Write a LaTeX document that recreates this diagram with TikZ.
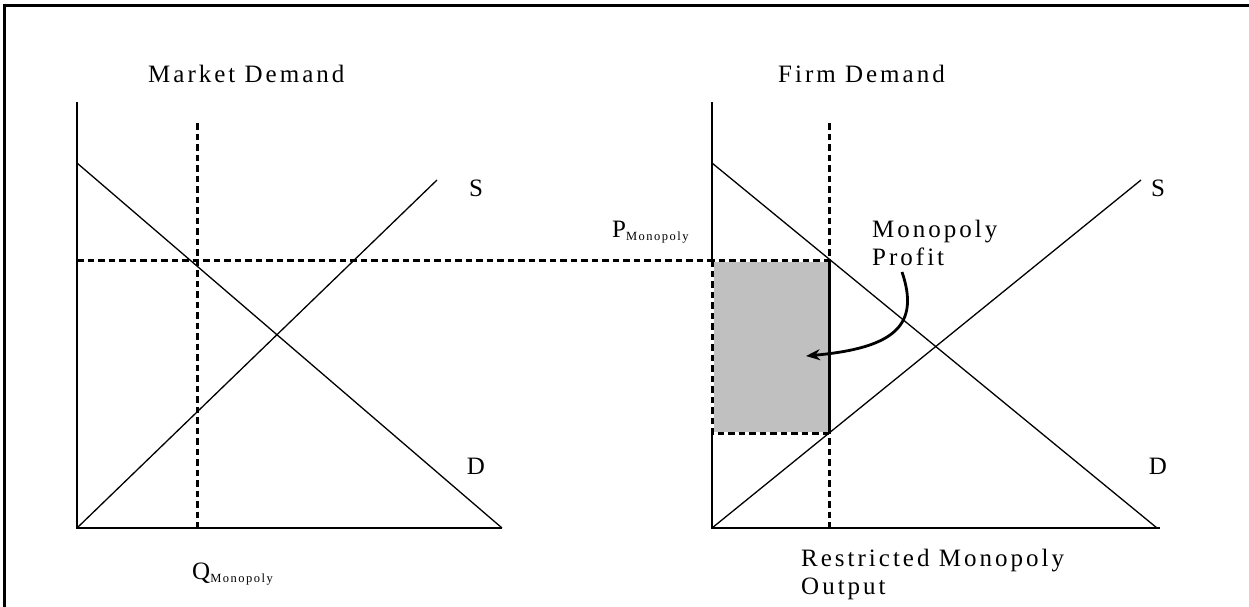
\documentclass[tikz,border=0pt]{standalone}
\usepackage{fontspec}
\setmainfont{Liberation Serif}[LetterSpace=12]
\usetikzlibrary{arrows.meta}
\begin{document}
\begin{tikzpicture}[x=1pt,y=-1pt,
  txt/.style={font=\fontsize{25}{29}\selectfont, inner sep=0pt},
  axisline/.style={line width=2pt},
  curveline/.style={line width=1.3pt},
  dsh/.style={line width=3pt, dash pattern=on 6.5pt off 4pt},
  gapline/.style={line width=3pt, white},
  profitfill/.style={fill={rgb,255:red,192;green,192;blue,192}},
  arrowline/.style={line width=2.8pt, -{Stealth[length=14pt,width=11pt]}},
  ]
\newcommand{\subtxt}[1]{\lower3pt\hbox{\fontsize{12.5}{14}\selectfont #1}}
\useasboundingbox (0,0) rectangle (1249,607);
% frame
\coordinate (fbl) at (4,607);
\coordinate (ftl) at (4,6);
\coordinate (ftr) at (1249,6);
\draw[line width=3pt] (fbl) -- (ftl) -- (ftr);

% left chart coordinates
\coordinate (lo) at (77,528);
\coordinate (ltop) at (77,102);
\coordinate (lxend) at (502,528);
\coordinate (ldA) at (77,163);
\coordinate (ldB) at (502,528);
\coordinate (lsB) at (437,180);
\coordinate (lvT) at (197,123);
\coordinate (lvB) at (197,528);
\coordinate (hA) at (77,260);
\coordinate (hB) at (712,260);

% right chart coordinates
\coordinate (ro) at (712,528);
\coordinate (rtop) at (712,102);
\coordinate (rxend) at (1160,528);
\coordinate (rdA) at (712,163);
\coordinate (rdB) at (1157,528);
\coordinate (rsB) at (1141,180);
\coordinate (rvT) at (829,123);
\coordinate (rvB) at (829,528);
\coordinate (pA) at (712,260);
\coordinate (pB) at (829,433);

% axes
\draw[axisline] (ltop) -- (lo) -- (lxend);
\draw[axisline] (rtop) -- (ro) -- (rxend);

% profit rectangle
\fill[profitfill] (pA) rectangle (pB);
\draw[gapline] (pA) rectangle (pB);
\draw[dsh] (pA) rectangle (pB);

% curves
\draw[curveline] (ldA) -- (ldB);
\draw[curveline] (lo) -- (lsB);
\draw[curveline] (rdA) -- (rdB);
\draw[curveline] (ro) -- (rsB);

% dashed guides
\draw[dsh] (lvT) -- (lvB);
\draw[dsh] (hA) -- (hB);
\draw[dsh] (rvT) -- (rvB);

% labels
\node[txt, anchor=base west] (mkt) at (148,83) {Market Demand};
\node[txt, anchor=base west] (firm) at (778,83) {Firm Demand};
\node[txt] (lS) at (476,188) {S};
\node[txt] (lD) at (476,466) {D};
\node[txt] (rS) at (1158,188) {S};
\node[txt] (rD) at (1158,466) {D};
\node[txt, anchor=base west] (pmon) at (612,237) {P\subtxt{Monopoly}};
\node[txt, anchor=base west] (qmon) at (192,579) {Q\subtxt{Monopoly}};
\node[txt, anchor=base west] (mono) at (872,237) {Monopoly};
\node[txt, anchor=base west] (prof) at (872,265) {Profit};
\node[txt, anchor=base west] (restr) at (801,566) {Restricted Monopoly};
\node[txt, anchor=base west] (outp) at (801,594) {Output};

% arrow
\coordinate (arrS) at (902,272);
\coordinate (arrE) at (806,356);
\draw[arrowline] (arrS) .. controls (920,325) and (895,348) .. (arrE);
\end{tikzpicture}
\end{document}
